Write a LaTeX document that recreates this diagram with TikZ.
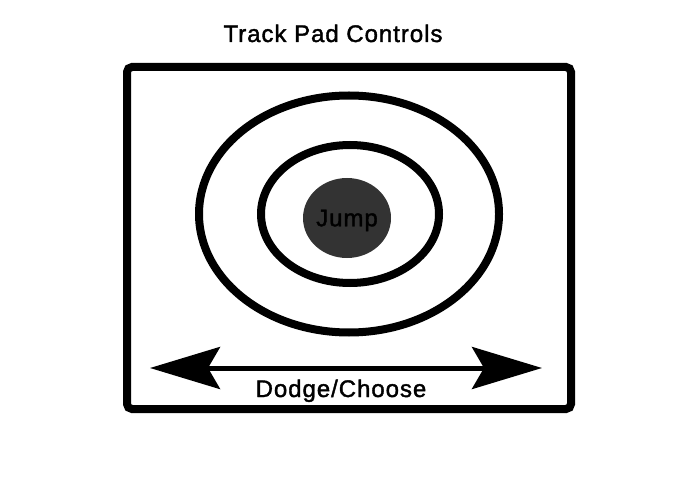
\documentclass[tikz,border=0pt]{standalone}
\usepackage{fontspec}
\setmainfont{Liberation Sans}
\newfontfamily\padfont[FakeBold=1.6, LetterSpace=4]{Liberation Sans}
\usetikzlibrary{positioning,shapes.geometric,arrows.meta}

\begin{document}
\begin{tikzpicture}[
    x=1pt, y=-1pt,
    pad/.style={rectangle, draw, line width=8pt, rounded corners=5pt, minimum width=444pt, minimum height=342pt},
    ring/.style={ellipse, draw, line width=8pt, inner sep=0pt},
    button/.style={ellipse, fill=black!80, text=black, inner sep=0pt, text depth=0pt, font=\padfont\fontsize{24}{28}\selectfont},
    caption/.style={anchor=base, inner sep=0pt, font=\padfont\fontsize{24}{28}\selectfont},
    dodge/.style={line width=5pt, {Stealth[length=70pt, width=42pt, inset=12pt]}-{Stealth[length=70pt, width=42pt, inset=12pt]}}
]
\useasboundingbox (0,0) rectangle (695,494);

% Title
\node[caption] (title) at (333,42) {Track Pad Controls};

% Pad
\node[pad] (pad) at (349,238) {};

% Rings
\node[ring, minimum width=300pt, minimum height=237pt] (outer) at (349,214) {};
\node[ring, minimum width=178pt, minimum height=138pt] (inner) at (350,214) {};
\node[button, minimum width=88pt, minimum height=80pt] (jump) at (347,218) {Jump};

% Dodge arrow
\coordinate (left) at (150,368);
\coordinate (right) at (542,368);
\draw[dodge] (left) -- (right);
\node[caption] (choose) at (341,397) {Dodge/Choose};

\end{tikzpicture}
\end{document}
